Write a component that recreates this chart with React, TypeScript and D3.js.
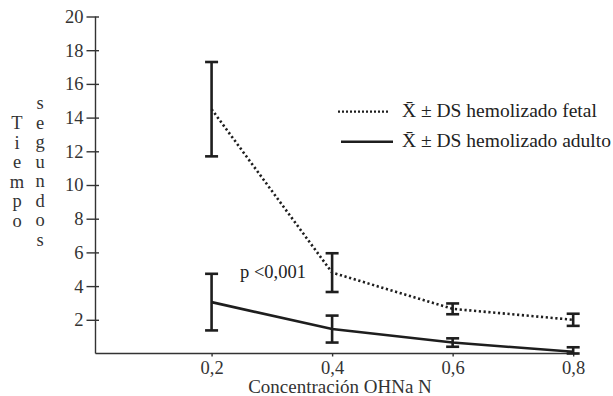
import React, { useEffect, useRef } from 'react'
import * as d3 from 'd3'

const concentrations = [0.2, 0.4, 0.6, 0.8]
const fetalMean = [14.5, 4.8, 2.65, 2.0]
const fetalSD = [2.8, 1.15, 0.32, 0.36]
const adultMean = [3.05, 1.45, 0.65, 0.1]
const adultSD = [1.68, 0.8, 0.25, 0.27]
const yTicks = [2, 4, 6, 8, 10, 12, 14, 16, 18, 20]
const legendLabels = ['X\u0304 \u00b1 DS hemolizado fetal', 'X\u0304 \u00b1 DS hemolizado adulto']

const W = 613
const H = 396
const FONT = '"Liberation Serif", "Times New Roman", serif'
const INK = '#1e1e1e'

export default function App() {
  const svgRef = useRef<SVGSVGElement>(null)

  useEffect(() => {
    if (!svgRef.current) return
    const svg = d3.select(svgRef.current)
    svg.selectAll('*').remove()

    const x = d3.scaleLinear().domain([0.0074, 0.808]).range([95.5, 578])
    const y = d3.scaleLinear().domain([0, 20]).range([353.5, 16.5])

    // y axis
    const gy = svg
      .append('g')
      .attr('transform', `translate(${x(0.0074)},0)`)
      .call(d3.axisLeft(y).tickValues(yTicks).tickSize(9).tickPadding(3))
    gy.select('.domain').attr('d', `M0,${y(20)}V${y(0)}`)
    gy.selectAll('.tick line').attr('x1', 3.5)
    gy.selectAll('path, line').attr('stroke', '#333').attr('stroke-width', 1.4)
    gy.selectAll('text')
      .attr('font-family', FONT)
      .attr('font-size', 18.5)
      .attr('fill', '#333')

    // x axis
    const gx = svg
      .append('g')
      .attr('transform', `translate(0,${y(0)})`)
      .call(
        d3
          .axisBottom(x)
          .tickValues(concentrations)
          .tickSize(3)
          .tickPadding(4)
          .tickFormat((d) => (d as number).toFixed(1).replace('.', ','))
      )
    gx.select('.domain').attr('d', `M${x(0.0074)},0H${x(0.808)}`)
    gx.selectAll('path, line').attr('stroke', '#333').attr('stroke-width', 1.4)
    gx.selectAll('text')
      .attr('font-family', FONT)
      .attr('font-size', 18.5)
      .attr('fill', '#333')

    const series = [
      { mean: fetalMean, sd: fetalSD, dash: '2.2 2.6' },
      { mean: adultMean, sd: adultSD, dash: null as string | null },
    ]

    const line = d3
      .line<number>()
      .x((_, i) => x(concentrations[i]))
      .y((d) => y(d))

    series.forEach((s) => {
      svg
        .append('path')
        .attr('d', line(s.mean))
        .attr('fill', 'none')
        .attr('stroke', INK)
        .attr('stroke-width', 2.6)
        .attr('stroke-dasharray', s.dash)

      const bars = svg
        .append('g')
        .selectAll('g')
        .data(s.mean)
        .join('g')
        .attr('stroke', INK)
        .attr('stroke-width', 2.6)
      const lo = (d: number, i: number) => y(Math.max(0, d - s.sd[i]))
      const hi = (d: number, i: number) => y(d + s.sd[i])
      bars
        .append('line')
        .attr('x1', (_, i) => x(concentrations[i]))
        .attr('x2', (_, i) => x(concentrations[i]))
        .attr('y1', lo)
        .attr('y2', hi)
      bars
        .append('line')
        .attr('x1', (_, i) => x(concentrations[i]) - 6.5)
        .attr('x2', (_, i) => x(concentrations[i]) + 6.5)
        .attr('y1', hi)
        .attr('y2', hi)
      bars
        .append('line')
        .attr('x1', (_, i) => x(concentrations[i]) - 6.5)
        .attr('x2', (_, i) => x(concentrations[i]) + 6.5)
        .attr('y1', lo)
        .attr('y2', lo)
    })

    // legend
    const legend = svg.append('g')
    legendLabels.forEach((label, i) => {
      const ly = 111.7 + i * 30
      legend
        .append('line')
        .attr('x1', 338 + i * 3)
        .attr('x2', 390 + i * 3)
        .attr('y1', ly)
        .attr('y2', ly)
        .attr('stroke', INK)
        .attr('stroke-width', i === 0 ? 2.2 : 2.6)
        .attr('stroke-dasharray', i === 0 ? '2 2' : null)
      legend
        .append('text')
        .attr('x', 402)
        .attr('y', ly + 5.5)
        .attr('font-family', FONT)
        .attr('font-size', 19.5)
        .attr('fill', '#222')
        .text(label)
    })

    svg
      .append('text')
      .attr('x', 240)
      .attr('y', 278)
      .attr('font-family', FONT)
      .attr('font-size', 18.5)
      .attr('fill', '#222')
      .text('p <0,001')

    svg
      .append('text')
      .attr('x', 340)
      .attr('y', 393)
      .attr('text-anchor', 'middle')
      .attr('font-family', FONT)
      .attr('font-size', 19)
      .attr('fill', '#333')
      .text('Concentración OHNa N')

    // stacked y title
    const cols = [
      { word: 'Tiempo', cx: 17, top: 129 },
      { word: 'segundos', cx: 40, top: 109 },
    ]
    cols.forEach((c) => {
      svg
        .append('g')
        .selectAll('text')
        .data(c.word.split(''))
        .join('text')
        .attr('x', c.cx)
        .attr('y', (_, i) => c.top + i * 19.5)
        .attr('text-anchor', 'middle')
        .attr('font-family', FONT)
        .attr('font-size', 18.5)
        .attr('fill', '#333')
        .text((d) => d)
    })
  }, [])

  return (
    <svg
      ref={svgRef}
      width={W}
      height={H}
      style={{ position: 'absolute', left: 0, top: 0, background: '#fff' }}
    />
  )
}
